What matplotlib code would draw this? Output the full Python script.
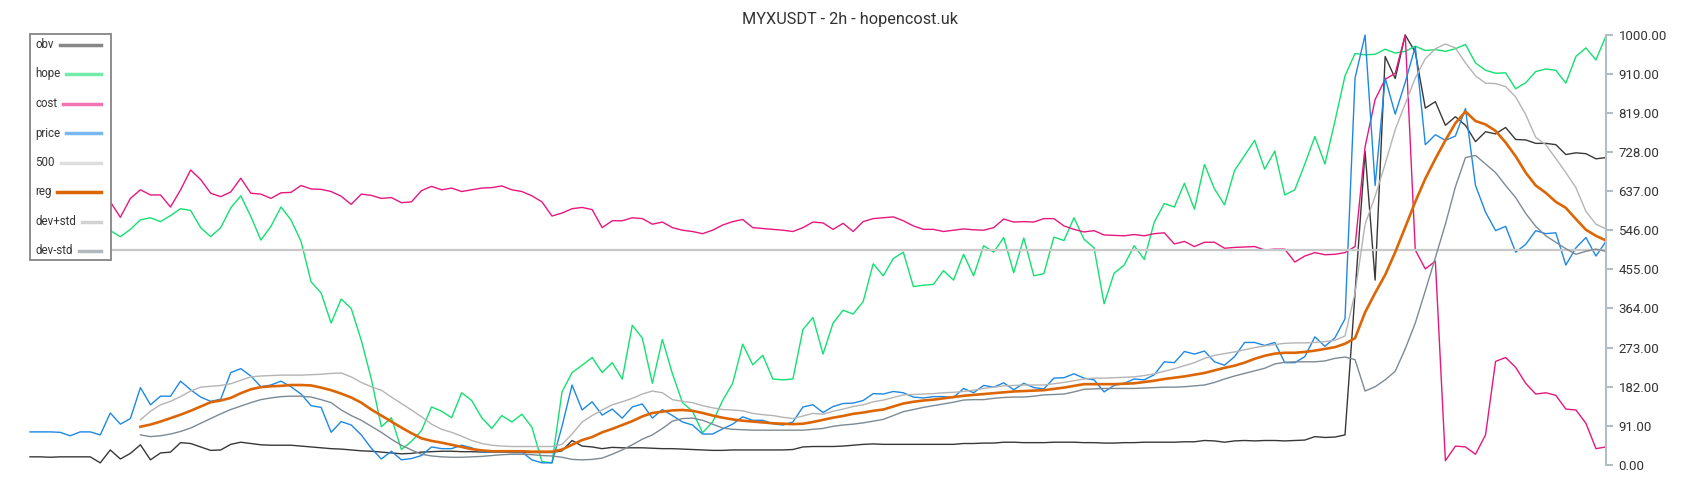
import numpy as np
import matplotlib
matplotlib.use("Agg")
from matplotlib import pyplot as plt
from matplotlib.patches import Rectangle
from matplotlib.lines import Line2D

nan = np.nan

# series, one value about every 10 px from left to right
obv = [19, 19, 18, 19, 19, 19, 19, 5, 35, 14,
       27, 47, 12, 28, 30, 52, 50, 42, 34, 35,
       48, 53, 50, 47, 46, 46, 46, 44, 42, 40,
       38, 37, 35, 33, 32, 30, 28, 26, 27, 30,
       31, 32, 32, 31, 31, 30, 30, 30, 29, 29,
       29, 29, 29, 33, 57, 44, 42, 38, 41, 40,
       40, 40, 39, 38, 38, 37, 36, 35, 34, 34,
       35, 35, 35, 35, 35, 35, 36, 42, 43, 43,
       43, 44, 46, 48, 49, 48, 48, 48, 48, 48,
       48, 48, 48, 50, 50, 51, 51, 53, 53, 52,
       52, 52, 53, 53, 53, 52, 52, 51, 51, 52,
       52, 53, 53, 53, 53, 54, 54, 57, 56, 53,
       56, 57, 56, 57, 57, 56, 57, 58, 66, 64,
       65, 70, 400, 729, 430, 950, 899, 1000, 960, 830,
       845, 790, 810, 790, 752, 775, 770, 785, 757, 756,
       748, 748, 745, 722, 726, 724, 712, 715]

hope = [555, 550, 545, 555, 565, 560, 570, 565, 545, 531,
        548, 570, 575, 566, 580, 596, 592, 552, 531, 552,
        598, 626, 578, 523, 555, 600, 570, 520, 426, 400,
        330, 386, 364, 290, 200, 89, 110, 36, 55, 80,
        135, 125, 110, 168, 150, 110, 85, 115, 100, 118,
        88, 8, 5, 170, 215, 232, 250, 215, 238, 200,
        325, 295, 190, 292, 212, 145, 125, 75, 100, 150,
        190, 281, 233, 255, 200, 198, 200, 315, 343, 258,
        330, 360, 351, 380, 468, 440, 480, 495, 415, 418,
        420, 452, 430, 490, 440, 510, 495, 529, 447, 528,
        440, 445, 530, 522, 575, 525, 505, 375, 446, 465,
        510, 478, 565, 608, 600, 655, 595, 699, 642, 605,
        685, 720, 755, 688, 730, 628, 640, 700, 764, 700,
        800, 905, 957, 954, 955, 967, 958, 962, 974, 964,
        966, 962, 968, 978, 935, 918, 911, 912, 875, 889,
        915, 921, 918, 888, 950, 970, 942, 998]

cost = [632, 640, 630, 645, 640, 650, 635, 625, 612, 576,
        620, 640, 628, 628, 600, 640, 686, 664, 632, 624,
        635, 667, 632, 630, 620, 633, 634, 650, 642, 641,
        636, 625, 606, 630, 627, 620, 622, 610, 612, 638,
        648, 640, 644, 636, 640, 644, 645, 649, 640, 636,
        626, 612, 579, 586, 596, 599, 594, 552, 568, 568,
        575, 573, 560, 565, 552, 546, 543, 538, 546, 558,
        566, 571, 552, 550, 548, 546, 543, 552, 565, 563,
        548, 562, 543, 566, 573, 575, 577, 568, 556, 548,
        548, 543, 546, 549, 547, 546, 552, 572, 565, 566,
        565, 573, 573, 556, 548, 542, 545, 535, 534, 533,
        536, 533, 538, 540, 514, 520, 508, 518, 518, 504,
        506, 507, 508, 500, 502, 502, 472, 486, 494, 489,
        490, 494, 508, 740, 850, 897, 911, 1000, 500, 456,
        474, 10, 44, 42, 25, 70, 241, 250, 227, 190,
        165, 168, 162, 130, 128, 97, 38, 42]

price = [77, 77, 77, 76, 68, 77, 77, 70, 121, 95,
         108, 180, 140, 160, 160, 195, 175, 158, 148, 153,
         215, 224, 207, 182, 186, 195, 182, 165, 138, 134,
         76, 101, 93, 70, 39, 14, 32, 12, 15, 22,
         42, 38, 38, 46, 40, 30, 30, 30, 30, 30,
         12, 5, 5, 90, 186, 128, 147, 116, 130, 109,
         135, 142, 109, 129, 115, 100, 93, 72, 72, 84,
         95, 112, 104, 104, 96, 93, 100, 135, 140, 122,
         136, 143, 144, 150, 166, 165, 171, 168, 158, 156,
         159, 159, 157, 178, 168, 185, 181, 191, 175, 190,
         180, 177, 202, 203, 212, 202, 198, 170, 185, 190,
         200, 198, 210, 240, 238, 264, 258, 265, 240, 232,
         252, 285, 285, 278, 285, 238, 238, 252, 298, 276,
         296, 340, 900, 1000, 650, 900, 816, 890, 973, 745,
         768, 755, 765, 829, 650, 588, 545, 555, 495, 513,
         545, 538, 540, 465, 505, 529, 486, 520]

level = 500

reg = [nan, nan, nan, nan, nan, nan, nan, nan, nan, nan,
       nan, 89, 94, 101, 109, 117, 126, 136, 146, 150,
       156, 167, 176, 181, 183, 184, 186, 186, 185, 180,
       174, 166, 157, 145, 129, 115, 101, 87, 74, 62,
       56, 52, 47, 42, 37, 34, 32, 32, 32, 32,
       31, 31, 31, 36, 47, 58, 65, 76, 84, 93,
       102, 113, 121, 124, 127, 128, 126, 121, 115, 110,
       106, 103, 101, 99, 97, 96, 95, 96, 100, 105,
       110, 114, 119, 122, 126, 129, 136, 143, 147, 150,
       152, 155, 158, 161, 163, 165, 167, 169, 171, 172,
       173, 174, 177, 180, 184, 188, 188, 188, 188, 189,
       190, 193, 196, 200, 203, 206, 210, 214, 220, 226,
       231, 238, 247, 254, 259, 261, 261, 263, 266, 270,
       274, 282, 295, 355, 400, 442, 495, 553, 612, 666,
       712, 755, 795, 822, 800, 792, 777, 750, 718, 680,
       650, 633, 612, 598, 572, 547, 533, 522]

dev_up = [nan, nan, nan, nan, nan, nan, nan, nan, nan, nan,
          nan, 105, 125, 140, 148, 159, 172, 181, 183, 185,
          189, 197, 205, 207, 208, 209, 209, 209, 210, 211,
          213, 214, 205, 192, 182, 174, 158, 143, 128, 112,
          95, 83, 76, 67, 57, 50, 46, 44, 43, 43,
          43, 43, 43, 48, 72, 100, 115, 128, 140, 147,
          155, 165, 172, 168, 152, 148, 145, 138, 133, 129,
          128, 126, 120, 117, 115, 111, 108, 114, 120, 118,
          125, 130, 136, 140, 147, 151, 157, 163, 164, 165,
          166, 168, 169, 171, 174, 178, 181, 184, 185, 186,
          186, 186, 189, 192, 196, 200, 202, 202, 203, 204,
          205, 208, 212, 218, 224, 231, 238, 248, 255, 259,
          263, 268, 273, 277, 280, 283, 284, 284, 285, 287,
          290, 300, 400, 560, 625, 700, 780, 840, 900, 945,
          968, 979, 970, 935, 905, 888, 887, 880, 856, 815,
          762, 745, 713, 680, 645, 590, 560, 549]

dev_dn = [nan, nan, nan, nan, nan, nan, nan, nan, nan, nan,
          nan, 70, 66, 68, 72, 78, 86, 97, 108, 119,
          129, 137, 145, 152, 156, 159, 160, 160, 158, 152,
          145, 128, 115, 104, 90, 76, 60, 46, 35, 25,
          21, 19, 18, 18, 19, 20, 22, 24, 25, 25,
          24, 22, 21, 18, 13, 12, 13, 16, 25, 35,
          47, 60, 70, 85, 102, 108, 109, 104, 95, 86,
          83, 82, 81, 81, 81, 81, 81, 81, 83, 85,
          90, 93, 95, 98, 102, 106, 115, 124, 129, 134,
          138, 142, 146, 151, 152, 152, 155, 157, 158, 158,
          160, 163, 164, 165, 170, 176, 177, 178, 178, 178,
          178, 179, 180, 181, 181, 182, 184, 186, 192, 200,
          207, 213, 219, 225, 235, 239, 240, 240, 240, 242,
          248, 251, 245, 172, 182, 198, 218, 270, 330, 405,
          482, 560, 647, 715, 720, 700, 680, 650, 622, 585,
          555, 533, 518, 503, 490, 497, 502, 497]

ytick_values = [0, 91, 182, 273, 364, 455, 546, 637, 728, 819, 910, 1000]

plt.rcParams['font.family'] = ['Roboto', 'DejaVu Sans']

W, H = 1700, 500
fig = plt.figure(figsize=(W / 100, H / 100), dpi=100)
ax = fig.add_axes([30 / W, 35 / H, 1576 / W, 430 / H])

n = len(price)
x = np.arange(n)

ax.plot(x, obv, color="#383838", lw=1.0, label="obv", clip_on=False)
ax.plot(x, hope, color="#14e070", lw=1.0, label="hope", clip_on=False)
ax.plot(x, cost, color="#e6177f", lw=1.0, label="cost", clip_on=False)
ax.plot(x, price, color="#1e88e5", lw=1.0, label="price", clip_on=False)
ax.plot(x, np.full(n, level), color="#c8c8c8", lw=1.6, label="500")
ax.plot(x, reg, color="#dc6605", lw=1.9, label="reg")
ax.plot(x, dev_up, color="#b4b4b4", lw=1.0, label="dev+std")
ax.plot(x, dev_dn, color="#7d8a94", lw=1.0, label="dev-std")

ax.set_xlim(0, n - 1)
ax.set_ylim(0, 1000)
ax.set_xticks([])
ax.yaxis.tick_right()
ax.set_yticks(ytick_values)
ax.set_yticklabels([f"{v:.2f}" for v in ytick_values])
ax.tick_params(axis="y", length=5, width=1.5, color="#b4bcc4",
               labelcolor="#333333", labelsize=9.5, pad=4)
for side in ["left", "top", "bottom"]:
    ax.spines[side].set_visible(False)
ax.spines["right"].set_color("#b4bcc4")
ax.spines["right"].set_linewidth(1.5)


# legend box: labels left, swatches running to a common right edge
def fx(px):
    return px / W


def fy(py):
    return 1 - py / H


frame = Rectangle((fx(30), fy(260)), fx(111) - fx(30), fy(34) - fy(260),
                  transform=fig.transFigure, facecolor="white",
                  edgecolor="#858585", lw=1.3, zorder=5)
fig.add_artist(frame)
renderer = fig.canvas.get_renderer()
for i, line in enumerate(ax.get_lines()):
    py = 44.5 + i * 29.5
    t = fig.text(fx(35), fy(py), line.get_label(), ha="left", va="center",
                 fontsize=8.3, color="#333333", zorder=6)
    bb = t.get_window_extent(renderer)
    alpha = 1.0 if line.get_label() == "reg" else 0.6
    fig.add_artist(Line2D([fx(bb.x1 + 6), fx(101)], [fy(py), fy(py)],
                          transform=fig.transFigure, color=line.get_color(),
                          lw=2.5, alpha=alpha, zorder=6))

fig.text(0.5, 0.961, "MYXUSDT - 2h - hopencost.uk", ha="center", va="center",
         fontsize=11.7, color="#333333")

fig.savefig("out.png", dpi=100)
